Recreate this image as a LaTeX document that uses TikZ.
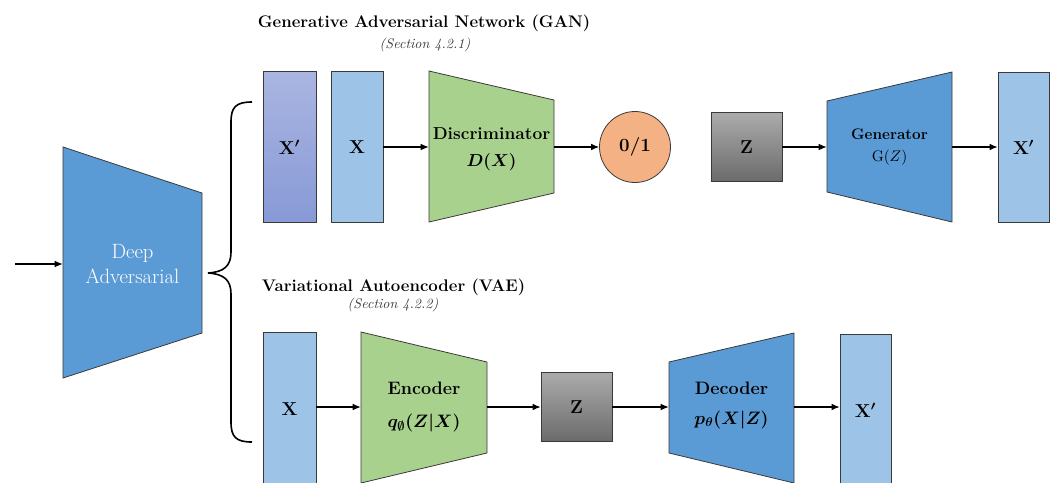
\RequirePackage{fix-cm}
\documentclass[tikz,border=0pt]{standalone}
\usepackage{amsmath}
\usetikzlibrary{arrows.meta}
\definecolor{advblue}{HTML}{5B9BD5}
\definecolor{boxblue}{HTML}{9DC3E6}
\definecolor{discgreen}{HTML}{A9D18E}
\definecolor{outorange}{HTML}{F4B183}
\definecolor{fakeTop}{HTML}{AAB5E1}
\definecolor{fakeBot}{HTML}{8799D6}
\definecolor{edgegray}{HTML}{3A3A3A}
\newcommand{\pxu}{0.75pt}

\begin{document}
\begin{tikzpicture}[x=\pxu,y=-\pxu,
  outline/.style={draw=edgegray,line width=0.6pt},
  datbox/.style={outline,fill=boxblue,inner sep=0pt},
  latbox/.style={outline,top color=black!33,bottom color=black!58,inner sep=0pt},
  flow/.style={-{Latex[length=6pt,width=5pt]},line width=0.8pt},
  sym/.style={font=\fontsize{14}{16}\selectfont},
  heading/.style={font=\bfseries\fontsize{12.6}{15}\selectfont},
  subhead/.style={font=\itshape\fontsize{10.5}{12}\selectfont,text=black!78},
  blocktext/.style={align=center,inner sep=0pt}]
  \useasboundingbox (0,0) rectangle (1056,482);
  \clip (0,0) rectangle (1056,482);

  % deep adversarial block and the input arrow
  \path[outline,fill=advblue] (63,147) -- (202,193) -- (202,333) -- (63,378) -- cycle;
  \node[blocktext,minimum width=139*\pxu,text=white,font=\fontsize{15.5}{18.75}\selectfont] (deep) at (132.5,264) {Deep\\Adversarial};
  \coordinate (in) at (15,264);
  \draw[flow] (in) -- (deep.west);
  \draw[line width=1.2pt] (252,102) .. controls (236,102) and (231,107) .. (231,122) -- (231,252)
    .. controls (231,266) and (224,272) .. (208,273) .. controls (224,274) and (231,280) .. (231,294)
    -- (231,422) .. controls (231,437) and (236,442) .. (252,442);

  % GAN row
  \node[heading] (gantitle) at (424,23) {Generative Adversarial Network (GAN)};
  \node[subhead] (gansec) at (425,45) {(Section 4.2.1)};
  \node[outline,top color=fakeTop,bottom color=fakeBot,minimum width=53*\pxu,minimum height=151*\pxu,sym] (fake) at (289.5,147) {$\boldsymbol{\mathbf{X}'}$};
  \node[datbox,minimum width=52*\pxu,minimum height=151*\pxu,sym] (real) at (357,147) {$\mathbf{X}$};
  \path[outline,fill=discgreen] (429,71) -- (554,100) -- (554,193) -- (429,222) -- cycle;
  \node[blocktext,minimum width=125*\pxu,font=\bfseries\fontsize{13}{20}\selectfont] (disc) at (491.5,149) {Discriminator\\$\boldsymbol{D(X)}$};
  \node[circle,outline,fill=outorange,minimum size=71*\pxu,inner sep=0pt,font=\bfseries\fontsize{14}{16}\selectfont] (verdict) at (635,147) {0/1};
  \node[latbox,minimum width=71*\pxu,minimum height=69*\pxu,sym] (noise) at (746.5,147) {$\mathbf{Z}$};
  \path[outline,fill=advblue] (827,101) -- (952,72) -- (952,222) -- (827,192) -- cycle;
  \node[blocktext,minimum width=125*\pxu,font=\bfseries\fontsize{11.5}{17}\selectfont] (gen) at (889.5,147) {Generator\\$\mathrm{G}(Z)$};
  \node[datbox,minimum width=51*\pxu,minimum height=150*\pxu,sym] (genout) at (1023.5,147) {$\boldsymbol{\mathbf{X}'}$};
  \draw[flow] (real.east) -- (disc.west |- real.east);
  \draw[flow] (disc.east |- verdict.west) -- (verdict.west);
  \draw[flow] (noise.east) -- (gen.west);
  \draw[flow] (gen.east) -- (genout.west);

  % VAE row
  \node[heading] (vaetitle) at (393.5,287) {Variational Autoencoder (VAE)};
  \node[subhead] (vaesec) at (393,305) {(Section 4.2.2)};
  \node[datbox,minimum width=53*\pxu,minimum height=154*\pxu,sym] (input) at (289.5,409) {$\mathbf{X}$};
  \path[outline,fill=discgreen] (361,332) -- (487,362) -- (487,453) -- (361,483) -- cycle;
  \node[blocktext,minimum width=126*\pxu,font=\bfseries\fontsize{13.5}{25}\selectfont] (enc) at (424,407) {Encoder\\$\boldsymbol{q_{\emptyset}(Z|X)}$};
  \node[latbox,minimum width=71*\pxu,minimum height=69*\pxu,sym] (code) at (576.5,407) {$\mathbf{Z}$};
  \path[outline,fill=advblue] (669,362) -- (794,333) -- (794,483) -- (669,453) -- cycle;
  \node[blocktext,minimum width=125*\pxu,font=\bfseries\fontsize{13.5}{22.5}\selectfont] (dec) at (731.5,405) {Decoder\\$\boldsymbol{p_{\theta}(X|Z)}$};
  \node[datbox,minimum width=51*\pxu,minimum height=152*\pxu,sym] (recon) at (865.5,410) {$\boldsymbol{\mathbf{X}'}$};
  \draw[flow] (input.east |- enc.west) -- (enc.west);
  \draw[flow] (enc.east) -- (code.west);
  \draw[flow] (code.east) -- (dec.west |- code.east);
  \draw[flow] (dec.east |- code.east) -- (recon.west |- code.east);
\end{tikzpicture}
\end{document}
